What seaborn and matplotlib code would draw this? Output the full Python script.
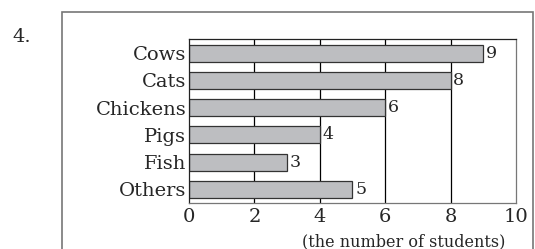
"""Horizontal bar chart: favourite animals of students."""

import matplotlib.pyplot as plt
import pandas as pd
import seaborn as sns
from matplotlib.patches import Rectangle

animals = ["Cows", "Cats", "Chickens", "Pigs", "Fish", "Others"]
students = [9, 8, 6, 4, 3, 5]
x_ticks = [0, 2, 4, 6, 8, 10]

data = pd.DataFrame({"animal": animals, "students": students})

sns.set_style("white")
plt.rcParams["font.family"] = ["DejaVu Serif"]

fig = plt.figure(figsize=(5.35, 2.49), dpi=100)
axis = fig.add_axes((0.3533, 0.1847, 0.611, 0.6567))

for x in x_ticks[1:-1]:
    axis.axvline(x, color="black", linewidth=0.9, zorder=0)

sns.barplot(
    data=data,
    x="students",
    y="animal",
    orient="h",
    color="#bdbec1",
    saturation=1,
    edgecolor="#333333",
    linewidth=0.9,
    width=0.63,
    ax=axis,
    zorder=2,
)
for container in axis.containers:
    axis.bar_label(container, padding=2, fontsize=12.5)

axis.set_xlim(0, 10)
axis.set_ylim(5.5, -0.5)
axis.set_xticks(x_ticks)
axis.tick_params(axis="both", length=0, labelsize=14)
axis.tick_params(axis="y", pad=2)
axis.tick_params(axis="x", pad=3.5)
axis.set_xlabel("")
axis.set_ylabel("")
for side, spine in axis.spines.items():
    spine.set_visible(True)
    spine.set_linewidth(0.9)
    spine.set_color("#222222" if side in ("left", "top") else "#777777")

fig.text(0.944, 0.028, "(the number of students)", ha="right", va="center", fontsize=11.5)
fig.text(0.024, 0.85, "4.", ha="left", va="center", fontsize=14)
fig.add_artist(
    Rectangle(
        (62 / 535, -0.05),
        (533 - 62) / 535,
        1.05 - 12 / 249,
        transform=fig.transFigure,
        fill=False,
        edgecolor="#777777",
        linewidth=1.2,
    )
)

fig.savefig("out.png", dpi=100)
plt.close(fig)
